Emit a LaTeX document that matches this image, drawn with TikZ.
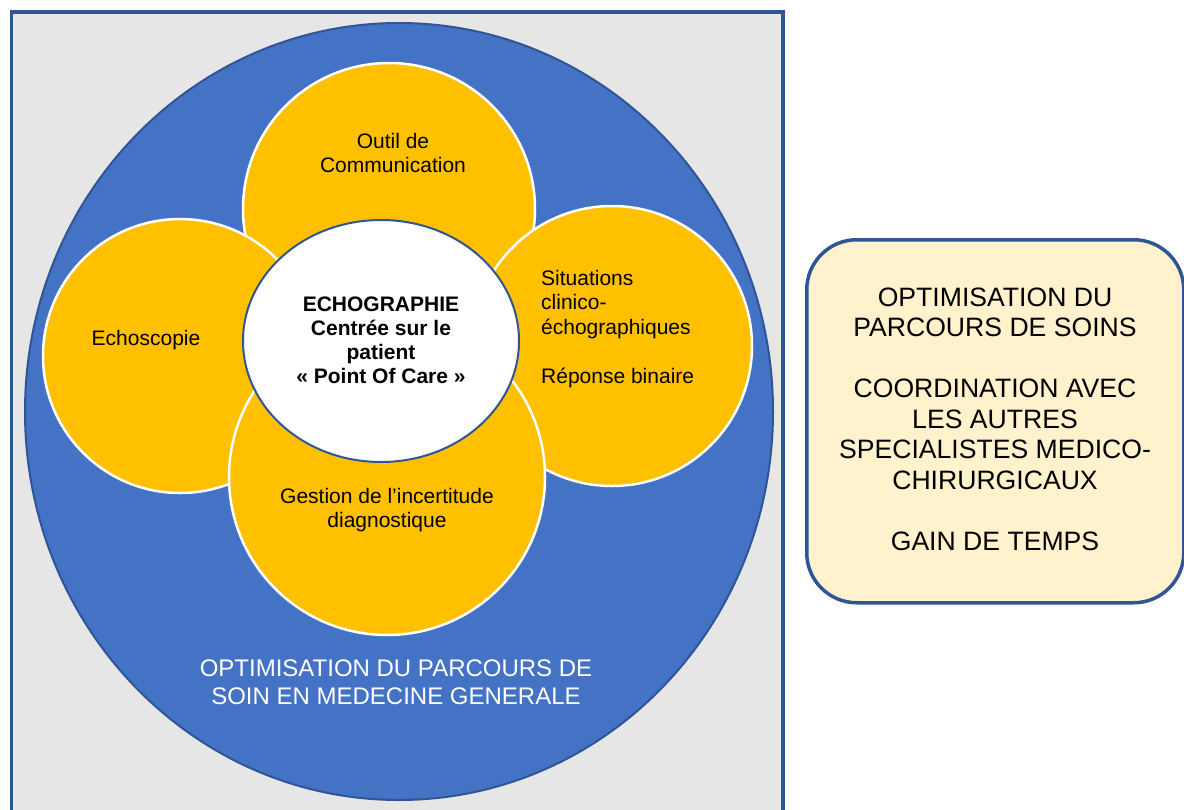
\documentclass[tikz,border=0pt]{standalone}
\usepackage{fontspec}
\setmainfont{Liberation Sans}
\usetikzlibrary{shapes.geometric}
\definecolor{grayfill}{HTML}{E7E6E6}
\definecolor{darkblue}{HTML}{2F5597}
\definecolor{midblue}{HTML}{4472C4}
\definecolor{gold}{HTML}{FFC000}
\definecolor{cream}{HTML}{FFF2CC}
\begin{document}
\begin{tikzpicture}[x=1pt,y=-1pt,
  petal/.style={circle, fill=gold, draw=white, line width=2.5pt, inner sep=0pt, minimum size=#1},
  lbl/.style={font=\fontsize{21}{24.5}\selectfont, align=center, inner sep=0pt},
  boldlbl/.style={font=\fontsize{21}{24}\selectfont\bfseries, align=center, inner sep=0pt},
  bluelbl/.style={font=\fontsize{24}{28.5}\selectfont, align=center, inner sep=0pt, text=white},
  boxlbl/.style={font=\fontsize{26.6}{30.5}\selectfont, align=center, inner sep=0pt},
]
\useasboundingbox (0,0) rectangle (1184,809);
\clip (0,0) rectangle (1184,809);
\node[rectangle, draw=darkblue, line width=3.5pt, fill=grayfill, minimum width=771.5pt, minimum height=830pt, anchor=north west, inner sep=0pt] (frame) at (9.5,10) {};
\node[ellipse, fill=midblue, draw=darkblue, line width=2pt, minimum width=748pt, minimum height=777pt, inner sep=0pt] (outer) at (399,411.5) {};
\node[petal=292pt] (ptop) at (389,209) {};
\node[petal=274pt] (pleft) at (180,356) {};
\node[petal=280pt] (pright) at (612,346) {};
\node[petal=316pt] (pbottom) at (387,477) {};
\node[ellipse, fill=white, draw=darkblue, line width=2pt, minimum width=276pt, minimum height=242pt, inner sep=0pt] (core) at (381,341) {};
\node[lbl] (ttop) at (393,153) {Outil de\\Communication};
\node[lbl] (tleft) at (146,340) {Echoscopie};
\node[lbl, align=left, anchor=west] (tright) at (541,329) {Situations\\clinico-\\échographiques\\[24.5pt]Réponse binaire};
\node[lbl] (tbottom) at (387,510) {Gestion de l’incertitude\\diagnostique};
\node[boldlbl] (tcore) at (381,340) {ECHOGRAPHIE\\Centrée sur le\\patient\\« Point Of Care »};
\node[bluelbl] (tblue) at (396,682) {OPTIMISATION DU PARCOURS DE\\SOIN EN MEDECINE GENERALE};
\node[rectangle, rounded corners=50pt, fill=cream, draw=darkblue, line width=3.5pt, minimum width=377pt, minimum height=363pt, anchor=north west, inner sep=0pt] (box) at (805,238) {};
\node[boxlbl] (tbox) at (995,419) {OPTIMISATION DU\\PARCOURS DE SOINS\\[30.5pt]COORDINATION AVEC\\LES AUTRES\\SPECIALISTES MEDICO-\\CHIRURGICAUX\\[30.5pt]GAIN DE TEMPS};
\end{tikzpicture}
\end{document}
